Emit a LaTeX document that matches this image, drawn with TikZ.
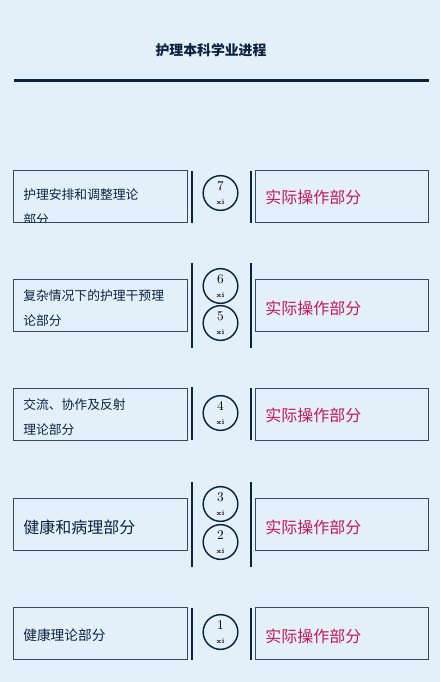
\documentclass[tikz,border=0pt]{standalone}
\usepackage{fontspec}
\newfontfamily\cjk{Noto Sans CJK SC}
\usetikzlibrary{positioning}
\definecolor{bgblue}{HTML}{E4F0F9}
\definecolor{navy}{HTML}{0E2240}
\definecolor{boxgray}{HTML}{3C4858}
\definecolor{practred}{HTML}{C2185B}

\begin{document}
\begin{tikzpicture}[x=0.75pt,y=-0.75pt,
	lbox/.style={
		draw=boxgray, line width=0.7pt,
		rectangle, inner sep=0pt,
		minimum width=130.5pt, minimum height=39pt
	},
	rbox/.style={
		lbox, minimum width=129.75pt
	},
	ltext/.style={
		anchor=west, inner sep=0pt, align=left, text=navy,
		font=\cjk\fontsize{9.6}{18.75}\selectfont
	},
	rtext/.style={
		anchor=west, inner sep=0pt, text=practred,
		font=\cjk\fontsize{12}{14}\selectfont
	},
	term/.style={
		draw=navy, circle, line width=1.1pt,
		minimum size=26pt, inner sep=0pt, align=center,
		font=\fontsize{10}{9}\selectfont
	},
	bar/.style={draw=navy, line width=1.1pt},
	node distance=51pt
	]
	\fill[bgblue] (0,0) rectangle (440,682);
	
	% title
	\node[text=navy, font=\cjk\bfseries\fontsize{10.4}{13}\selectfont] (title) at (211,50) {护理本科学业进程};
	\draw[navy, line width=2.25pt] (14,80) -- (429,80);
	
	% left column
	\node[lbox] (l7) at (100,196) {};
	\node[lbox] (l6) at (100,305.5) {};
	\node[lbox] (l4) at (100,414) {};
	\node[lbox] (l3) at (100,524) {};
	\node[lbox] (l1) at (100,633.5) {};
	
	\begin{scope}
	\clip (l7.south west) rectangle (l7.north east);
	\node[ltext] (t7) at (23,207) {护理安排和调整理论\\部分};
	\end{scope}
	\node[ltext] (t6) at (23,308) {复杂情况下的护理干预理\\论部分};
	\node[ltext] (t4) at (23,417.5) {交流、协作及反射\\理论部分};
	\node[ltext, font=\cjk\fontsize{12}{14}\selectfont] (t3) at (23,527) {健康和病理部分};
	\node[ltext, font=\cjk\fontsize{10.3}{14}\selectfont] (t1) at (23,635) {健康理论部分};
	
	% right column
	\node[rbox, right=of l7] (r7) {};
	\node[rbox, right=of l6] (r6) {};
	\node[rbox, right=of l4] (r4) {};
	\node[rbox, right=of l3] (r3) {};
	\node[rbox, right=of l1] (r1) {};
	
	\node[rtext] (p7) at (265,197) {实际操作部分};
	\node[rtext] (p6) at (265,308) {实际操作部分};
	\node[rtext] (p4) at (265,415) {实际操作部分};
	\node[rtext] (p3) at (265,527) {实际操作部分};
	\node[rtext] (p1) at (265,636) {实际操作部分};
	
	% terms
	\node[term] (s7) at (220.5,193) {7\\[1pt]{\fontsize{5}{5}\selectfont\bfseries xi}};
	\node[term] (s6) at (220.5,286) {6\\[1pt]{\fontsize{5}{5}\selectfont\bfseries xi}};
	\node[term] (s5) at (220.5,323) {5\\[1pt]{\fontsize{5}{5}\selectfont\bfseries xi}};
	\node[term] (s4) at (220.5,413) {4\\[1pt]{\fontsize{5}{5}\selectfont\bfseries xi}};
	\node[term] (s3) at (220.5,504) {3\\[1pt]{\fontsize{5}{5}\selectfont\bfseries xi}};
	\node[term] (s2) at (220.5,542) {2\\[1pt]{\fontsize{5}{5}\selectfont\bfseries xi}};
	\node[term] (s1) at (220.5,632) {1\\[1pt]{\fontsize{5}{5}\selectfont\bfseries xi}};
	
	% bars
	\draw[bar] (192,171) -- (192,223);
	\draw[bar] (251,171) -- (251,223);
	\draw[bar] (192,263) -- (192,348);
	\draw[bar] (251,263) -- (251,348);
	\draw[bar] (192,387) -- (192,440);
	\draw[bar] (251,388) -- (251,440);
	\draw[bar] (192,482) -- (192,567);
	\draw[bar] (251,482) -- (251,567);
	\draw[bar] (192,608) -- (192,660);
	\draw[bar] (251,608) -- (251,660);
\end{tikzpicture}
\end{document}
